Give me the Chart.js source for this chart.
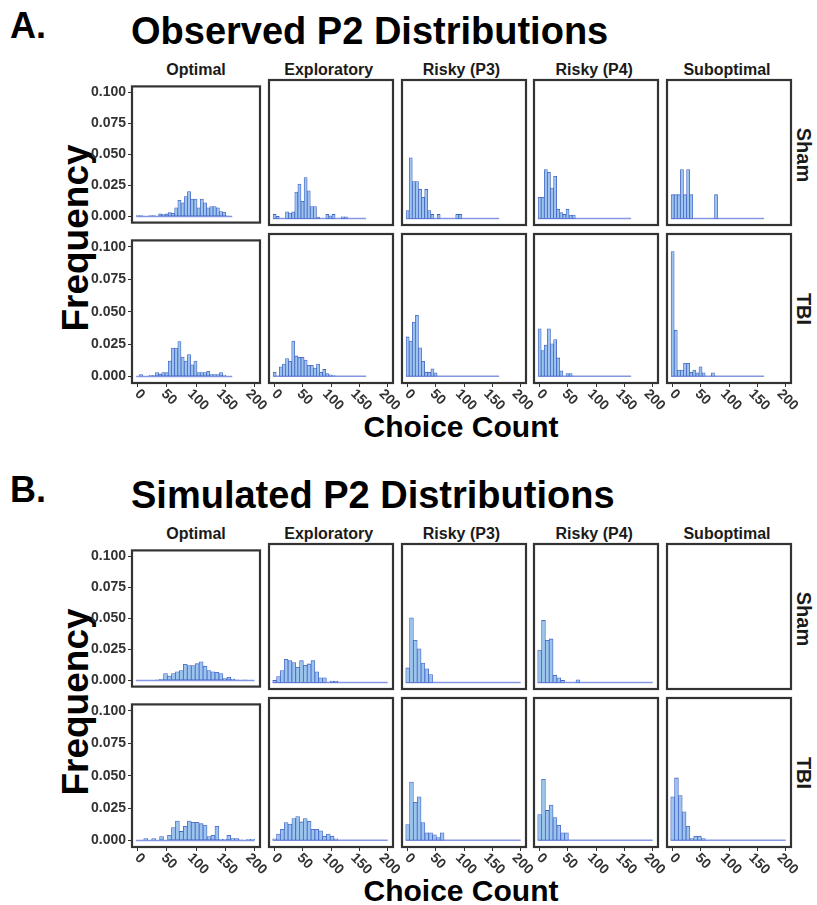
<!DOCTYPE html>
<html>
<head>
<meta charset="utf-8">
<script src="https://cdn.jsdelivr.net/npm/chart.js@4.4.1/dist/chart.umd.min.js"></script>
<style>
  body { margin: 0; background: #fff; }
  #fig { position: relative; width: 817px; height: 905px; font-family: "Liberation Sans", Arial, sans-serif; font-weight: bold; color: #000; }
  #fig canvas { position: absolute; }
  .t { position: absolute; white-space: nowrap; line-height: 1; }
</style>
</head>
<body>
<div id="fig"></div>
<script>
// facet labels and axes
const strategies = ['Optimal', 'Exploratory', 'Risky (P3)', 'Risky (P4)', 'Suboptimal'];
const groups = ['Sham', 'TBI'];
const xTicks = [0, 50, 100, 150, 200];
const yTicks = [0, 0.025, 0.05, 0.075, 0.1];

// histogram bin widths (30 bins each)
const obsBinWidth = 5.5;
const simBinWidth = 6.8;

// observed frequencies per bin
const obsShamOptimal     = [0.0006,0.0006,0,0,0.0006,0.0006,0,0.002,0.0015,0.002,0.003,0.0025,0.007,0.013,0.011,0.016,0.02,0.014,0.014,0.007,0.014,0.011,0.007,0.008,0.008,0.007,0.004,0.0035,0.0005,0];
const obsShamExploratory = [0.003,0.0015,0,0,0.005,0.004,0.005,0.02,0.026,0.013,0.031,0.021,0.009,0.009,0.001,0,0,0.003,0.002,0.003,0,0,0.0012,0.0012,0,0,0,0,0,0];
const obsShamRiskyP3     = [0.006,0.046,0.028,0.028,0.022,0.016,0.022,0.006,0.003,0,0.003,0,0,0,0,0,0.003,0.003,0,0,0,0,0,0,0,0,0,0,0,0];
const obsShamRiskyP4     = [0.016,0.016,0.037,0.035,0.023,0.032,0.007,0.0045,0.003,0.007,0.0025,0.0025,0,0,0,0,0,0,0,0,0,0,0,0,0,0,0,0,0,0];
const obsShamSuboptimal  = [0.018,0.018,0.018,0.037,0.018,0.037,0.018,0,0,0,0,0,0,0,0.018,0,0,0,0,0,0,0,0,0,0,0,0,0,0,0];
const obsTbiOptimal      = [0,0.0015,0,0,0.001,0.001,0.003,0.002,0.003,0.003,0.012,0.022,0.022,0.027,0.015,0.012,0.017,0.009,0.012,0.003,0.003,0.003,0.004,0.0015,0.0015,0.0015,0.003,0.001,0,0];
const obsTbiExploratory  = [0.003,0,0.007,0.009,0.013,0.011,0.026,0.015,0.014,0.014,0.012,0.008,0.008,0.006,0.009,0.003,0.005,0.002,0.001,0.0005,0,0,0,0,0,0,0,0,0,0];
const obsTbiRiskyP3      = [0.029,0.026,0.04,0.045,0.021,0.011,0.003,0.003,0.0055,0.0025,0,0,0,0,0,0,0,0,0,0,0,0,0,0,0,0,0,0,0,0];
const obsTbiRiskyP4      = [0.035,0.019,0.023,0.035,0.024,0.027,0.0135,0.004,0,0.002,0.002,0,0,0,0,0,0,0,0,0,0,0,0,0,0,0,0,0,0,0];
const obsTbiSuboptimal   = [0.092,0.034,0.0045,0.0045,0.0095,0.0095,0.003,0.0045,0.0025,0.007,0.0025,0,0,0.0025,0,0,0,0,0,0,0,0,0,0,0,0,0,0,0,0];

// simulated frequencies per bin
const simShamOptimal     = [0,0,0,0,0,0.0005,0.001,0.0055,0.0035,0.0055,0.007,0.008,0.013,0.012,0.012,0.0135,0.015,0.0115,0.008,0.007,0.0065,0.0055,0.0015,0.0025,0.001,0.0005,0,0.0005,0,0];
const simShamExploratory = [0.0015,0.0045,0.009,0.0175,0.0165,0.015,0.0115,0.0165,0.013,0.014,0.0165,0.008,0.0035,0.0035,0,0.001,0.001,0,0,0,0,0,0,0,0,0,0,0,0,0];
const simShamRiskyP3     = [0.011,0.049,0.032,0.0255,0.0147,0.0103,0.006,0,0,0,0,0,0,0,0,0,0,0,0,0,0,0,0,0,0,0,0,0,0,0];
const simShamRiskyP4     = [0.0245,0.047,0.032,0.033,0.0055,0.0035,0.0015,0,0,0,0.002,0,0,0,0,0,0,0,0,0,0,0,0,0,0,0,0,0,0,0];
const simShamSuboptimal  = [];
const simTbiOptimal      = [0,0,0.0015,0,0.0015,0,0.003,0,0.004,0.01,0.015,0.007,0.011,0.015,0.014,0.014,0.013,0.012,0.003,0.004,0.011,0.001,0.001,0.004,0.0015,0.0015,0.0005,0,0.001,0.001];
const simTbiExploratory  = [0.001,0.0045,0.008,0.013,0.012,0.016,0.0175,0.0135,0.016,0.014,0.008,0.008,0.007,0.003,0.0045,0.003,0.001,0,0,0,0,0,0,0,0,0,0,0,0,0];
const simTbiRiskyP3      = [0.0115,0.043,0.028,0.032,0.013,0.0055,0.0055,0.004,0.002,0.0055,0,0,0,0,0,0,0,0,0,0,0,0,0,0,0,0,0,0,0,0];
const simTbiRiskyP4      = [0.019,0.045,0.022,0.026,0.0167,0.011,0.0055,0.0055,0,0,0,0,0,0,0,0,0,0,0,0,0,0,0,0,0,0,0,0,0,0];
const simTbiSuboptimal   = [0.032,0.046,0.033,0.021,0.0103,0.0012,0.003,0.003,0.0012,0,0,0,0,0,0,0,0,0,0,0,0,0,0,0,0,0,0,0,0,0];

const sections = [
  { tag: 'A.', title: 'Observed P2 Distributions', binWidth: obsBinWidth, offset: 0,
    rows: [[obsShamOptimal, obsShamExploratory, obsShamRiskyP3, obsShamRiskyP4, obsShamSuboptimal],
           [obsTbiOptimal, obsTbiExploratory, obsTbiRiskyP3, obsTbiRiskyP4, obsTbiSuboptimal]] },
  { tag: 'B.', title: 'Simulated P2 Distributions', binWidth: simBinWidth, offset: 464,
    rows: [[simShamOptimal, simShamExploratory, simShamRiskyP3, simShamRiskyP4, simShamSuboptimal],
           [simTbiOptimal, simTbiExploratory, simTbiRiskyP3, simTbiRiskyP4, simTbiSuboptimal]] }
];

const FONT = '"Liberation Sans", Arial, sans-serif';
const fig = document.getElementById('fig');
const panelW = 128, panelH = 149;
const colLeft = c => 132 + c * 132.75;
const rowTop = [80, 234];

function text(str, x, y, size, opts = {}) {
  const d = document.createElement('div');
  d.className = 't';
  d.textContent = str;
  d.style.left = x + 'px';
  d.style.top = y + 'px';
  d.style.fontSize = size + 'px';
  if (opts.color) d.style.color = opts.color;
  const anchor = opts.left ? 'translate(0,-50%)' : 'translate(-50%,-50%)';
  d.style.transform = anchor + (opts.rotate ? ' rotate(' + opts.rotate + 'deg)' : '');
  fig.appendChild(d);
}

// dark panel border around each facet
const frame = {
  id: 'frame',
  afterDraw(chart) {
    const { ctx, chartArea: a } = chart;
    ctx.save();
    ctx.strokeStyle = '#333';
    ctx.lineWidth = 2.2;
    ctx.strokeRect(a.left, a.top, a.right - a.left, a.bottom - a.top);
    ctx.restore();
  }
};

// x tick labels slanted downwards to the right, hanging under their tick
const slantLabels = {
  id: 'slantLabels',
  afterDraw(chart) {
    const s = chart.scales.x;
    if (!s.options.display) return;
    const ctx = chart.ctx;
    const size = 14;
    ctx.save();
    ctx.font = 'bold ' + size + 'px ' + FONT;
    ctx.fillStyle = '#333';
    ctx.textAlign = 'center';
    ctx.textBaseline = 'middle';
    s.ticks.forEach(t => {
      const label = String(t.value);
      const half = (ctx.measureText(label).width + size * 0.75) * Math.SQRT1_2 / 2;
      ctx.save();
      ctx.translate(s.getPixelForValue(t.value) + 2, s.top + 5 + half);
      ctx.rotate(Math.PI / 4);
      ctx.fillText(label, 0, 0);
      ctx.restore();
    });
    ctx.restore();
  }
};

function makePanel(bins, binWidth, r, c, top) {
  const padL = c === 0 ? 50 : 4, padT = 4;
  const padR = r === 1 ? 18 : 4, padB = r === 1 ? 46 : 4;
  const cv = document.createElement('canvas');
  const w = panelW + padL + padR, h = panelH + padT + padB;
  cv.width = w; cv.height = h;
  cv.style.left = (colLeft(c) - padL) + 'px';
  cv.style.top = (top - padT) + 'px';
  cv.style.width = w + 'px';
  cv.style.height = h + 'px';
  fig.appendChild(cv);

  const datasets = [];
  if (bins.length) {
    datasets.push({
      type: 'bar',
      data: bins.map((v, i) => ({ x: i * binWidth, y: v })),
      backgroundColor: '#9cc4ec',
      borderColor: '#4363c6',
      borderWidth: 0.8,
      borderSkipped: false,
      barPercentage: 1,
      categoryPercentage: 1,
      order: 1
    });
    datasets.push({
      type: 'line',
      data: [{ x: -binWidth / 2, y: 0 }, { x: (bins.length - 0.5) * binWidth, y: 0 }],
      borderColor: '#8796e2',
      borderWidth: 1.5,
      pointRadius: 0,
      order: 2
    });
  }

  new Chart(cv, {
    type: 'bar',
    data: { datasets },
    options: {
      responsive: false,
      animation: false,
      events: [],
      layout: { padding: { top: padT, right: padR, left: c === 0 ? 0 : padL, bottom: r === 1 ? 0 : padB } },
      plugins: { legend: { display: false }, tooltip: { enabled: false } },
      scales: {
        x: {
          type: 'linear', min: -10, max: 210,
          offset: false,
          display: r === 1,
          afterBuildTicks: s => { s.ticks = xTicks.map(v => ({ value: v })); },
          afterFit: s => { s.height = padB; },
          ticks: { display: false },
          grid: { offset: false, drawOnChartArea: false, tickLength: 4, color: '#333' },
          border: { display: false }
        },
        y: {
          min: -0.005, max: 0.105,
          display: c === 0,
          afterBuildTicks: s => { s.ticks = yTicks.map(v => ({ value: v })); },
          afterFit: s => { s.width = padL; },
          ticks: { font: { family: FONT, weight: 'bold', size: 14 }, color: '#333', padding: 2, callback: v => v.toFixed(3) },
          grid: { drawOnChartArea: false, tickLength: 4, color: '#333' },
          border: { display: false }
        }
      }
    },
    plugins: [frame, slantLabels]
  });
}

sections.forEach(sec => {
  const o = sec.offset;
  text(sec.tag, 28, 26 + o, 36);
  text(sec.title, 131, 31 + o, 38, { left: true });
  strategies.forEach((s, c) => text(s, colLeft(c) + panelW / 2, 70 + o, 16, { color: '#1a1a1a' }));
  groups.forEach((g, r) => text(g, 804, rowTop[r] + o + panelH / 2, 20, { rotate: 90, color: '#1a1a1a' }));
  text('Frequency', 75, 238 + o, 37, { rotate: -90 });
  text('Choice Count', 461, 427 + o, 30);
  sec.rows.forEach((row, r) => row.forEach((bins, c) => makePanel(bins, sec.binWidth, r, c, rowTop[r] + o)));
});
</script>
</body>
</html>
